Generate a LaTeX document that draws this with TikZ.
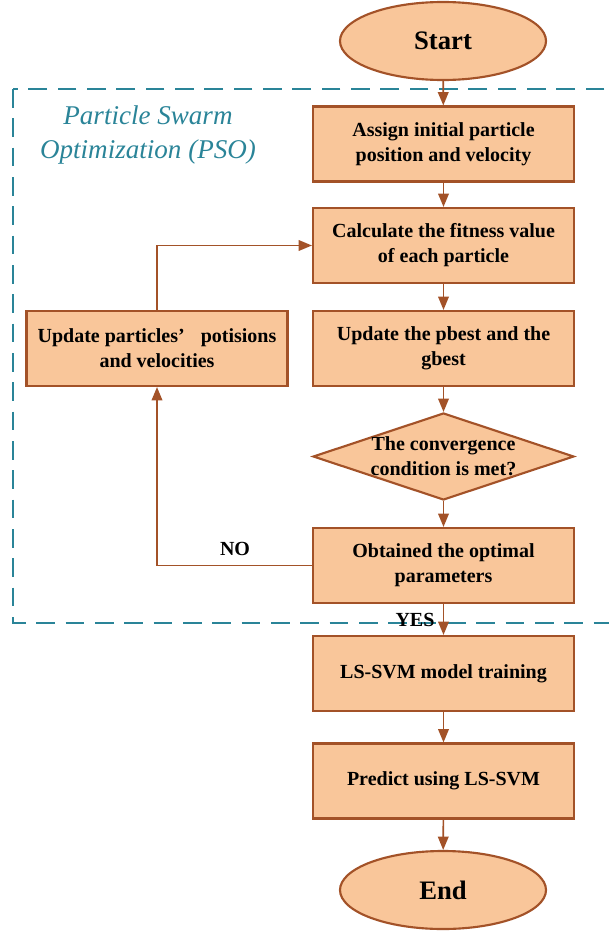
\documentclass[tikz,border=0pt]{standalone}
\usepackage{fontspec}
\setmainfont{Liberation Serif}
\usetikzlibrary{shapes.geometric,arrows.meta}
\definecolor{peach}{RGB}{249,198,154}
\definecolor{brn}{RGB}{163,82,40}
\definecolor{tealc}{RGB}{42,132,152}
\begin{document}
\begin{tikzpicture}[x=0.75pt,y=-0.75pt,
  txt/.style={font=\bfseries\fontsize{15}{18.75}\selectfont, align=center, text=black},
  box/.style={txt, draw=brn, fill=peach, line width=1.6pt, minimum width=195.75pt, minimum height=56.25pt, inner sep=0pt},
  term/.style={ellipse, draw=brn, fill=peach, line width=1.6pt, minimum width=154.5pt, minimum height=58.5pt, inner sep=0pt, font=\bfseries\fontsize{20}{24}\selectfont},
  dia/.style={diamond, draw=brn, fill=peach, line width=1.6pt, minimum width=195.75pt, minimum height=65.25pt, inner sep=0pt},
  arr/.style={draw=brn, line width=1.2pt, -{Triangle[length=10pt,width=8pt]}},
  lab/.style={font=\bfseries\fontsize{15}{18}\selectfont, inner sep=0pt},
  region/.style={draw=tealc, line width=1.6pt, dash pattern=on 14pt off 8pt}
]
\useasboundingbox (0,0) rectangle (608,931);
\draw[region] (13,89) rectangle (640,623);
\node[font=\itshape\fontsize{20.3}{25.5}\selectfont, text=tealc, align=center] (pso) at (148,135) {Particle Swarm\\Optimization (PSO)};

\node[term] (start) at (443,41) {Start};
\node[box] (b1) at (443.5,144) {Assign initial particle\\position and velocity};
\node[box] (b2) at (443.5,245.5) {Calculate the fitness value\\of each particle};
\node[box] (b3) at (443.5,348.5) {Update the pbest and the\\gbest};
\node[box] (upd) at (157,348.5) {Update particles’\hspace{0.8em}potisions\\and velocities};
\node[dia] (d) at (443.5,456.5) {};
\node[txt] (dt) at (443.5,456.5) {The convergence\\condition is met?};
\node[box] (obt) at (443.5,565.5) {Obtained the optimal\\parameters};
\node[box] (ls) at (443.5,673.5) {LS-SVM model training};
\node[box] (pr) at (443.5,781) {Predict using LS-SVM};
\node[term] (end) at (443,890) {End};

\draw[arr] (start) -- (b1);
\draw[arr] (b1) -- (b2);
\draw[arr] (b2) -- (b3);
\draw[arr] (b3) -- (d);
\draw[arr] (d) -- (obt);
\draw[arr] (obt) -- (ls);
\draw[arr] (ls) -- (pr);
\draw[arr] (pr) -- (end);
\draw[arr] (obt.west) -| (upd.south);
\draw[arr] (upd.north) |- (b2.west);

\node[lab] (no) at (235,549) {NO};
\node[lab] (yes) at (415,620) {YES};
\end{tikzpicture}
\end{document}
